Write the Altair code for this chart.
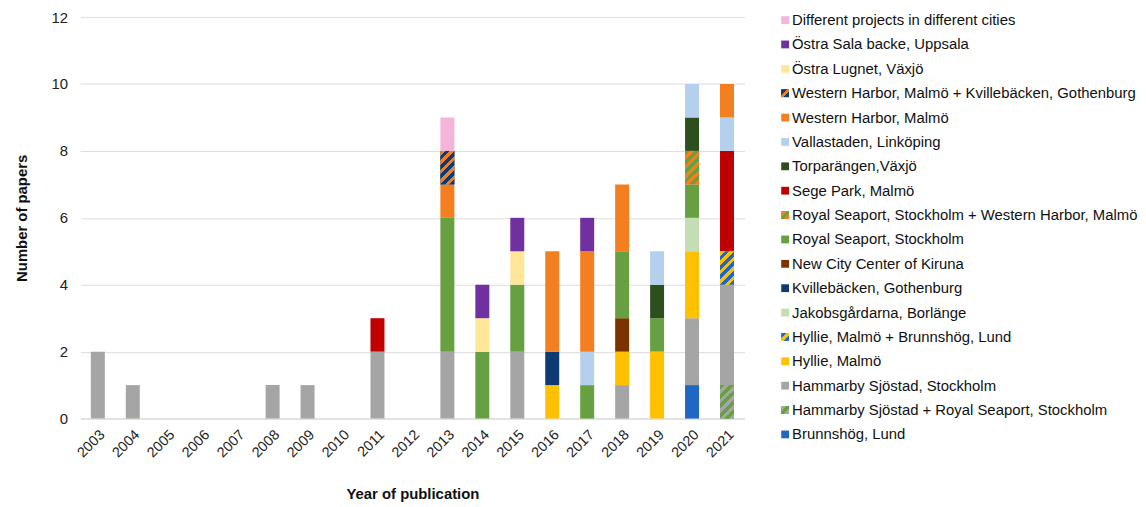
import altair as alt
import pandas as pd

years = [str(y) for y in range(2003, 2022)]

# stacking order: bottom -> top
series_names = [
    "Brunnshög, Lund",
    "Hammarby Sjöstad + Royal Seaport, Stockholm",
    "Hammarby Sjöstad, Stockholm",
    "Hyllie, Malmö",
    "Hyllie, Malmö + Brunnshög, Lund",
    "Jakobsgårdarna, Borlänge",
    "Kvillebäcken, Gothenburg",
    "New City Center of Kiruna",
    "Royal Seaport, Stockholm",
    "Royal Seaport, Stockholm + Western Harbor, Malmö",
    "Sege Park, Malmö",
    "Torparängen,Växjö",
    "Vallastaden, Linköping",
    "Western Harbor, Malmö",
    "Western Harbor, Malmö + Kvillebäcken, Gothenburg",
    "Östra Lugnet, Växjö",
    "Östra Sala backe, Uppsala",
    "Different projects in different cities",
]

#                 03 04 05 06 07 08 09 10 11 12 13 14 15 16 17 18 19 20 21
brunnshog      = [0, 0, 0, 0, 0, 0, 0, 0, 0, 0, 0, 0, 0, 0, 0, 0, 0, 1, 0]
hammarby_royal = [0, 0, 0, 0, 0, 0, 0, 0, 0, 0, 0, 0, 0, 0, 0, 0, 0, 0, 1]
hammarby       = [2, 1, 0, 0, 0, 1, 1, 0, 2, 0, 2, 0, 2, 0, 0, 1, 0, 2, 3]
hyllie         = [0, 0, 0, 0, 0, 0, 0, 0, 0, 0, 0, 0, 0, 1, 0, 1, 2, 2, 0]
hyllie_brunns  = [0, 0, 0, 0, 0, 0, 0, 0, 0, 0, 0, 0, 0, 0, 0, 0, 0, 0, 1]
jakobsgardarna = [0, 0, 0, 0, 0, 0, 0, 0, 0, 0, 0, 0, 0, 0, 0, 0, 0, 1, 0]
kvillebacken   = [0, 0, 0, 0, 0, 0, 0, 0, 0, 0, 0, 0, 0, 1, 0, 0, 0, 0, 0]
kiruna         = [0, 0, 0, 0, 0, 0, 0, 0, 0, 0, 0, 0, 0, 0, 0, 1, 0, 0, 0]
royal          = [0, 0, 0, 0, 0, 0, 0, 0, 0, 0, 4, 2, 2, 0, 1, 2, 1, 1, 0]
royal_western  = [0, 0, 0, 0, 0, 0, 0, 0, 0, 0, 0, 0, 0, 0, 0, 0, 0, 1, 0]
sege           = [0, 0, 0, 0, 0, 0, 0, 0, 1, 0, 0, 0, 0, 0, 0, 0, 0, 0, 3]
torparangen    = [0, 0, 0, 0, 0, 0, 0, 0, 0, 0, 0, 0, 0, 0, 0, 0, 1, 1, 0]
vallastaden    = [0, 0, 0, 0, 0, 0, 0, 0, 0, 0, 0, 0, 0, 0, 1, 0, 1, 1, 1]
western        = [0, 0, 0, 0, 0, 0, 0, 0, 0, 0, 1, 0, 0, 3, 3, 2, 0, 0, 1]
western_kville = [0, 0, 0, 0, 0, 0, 0, 0, 0, 0, 1, 0, 0, 0, 0, 0, 0, 0, 0]
ostra_lugnet   = [0, 0, 0, 0, 0, 0, 0, 0, 0, 0, 0, 1, 1, 0, 0, 0, 0, 0, 0]
ostra_sala     = [0, 0, 0, 0, 0, 0, 0, 0, 0, 0, 0, 1, 1, 0, 1, 0, 0, 0, 0]
different      = [0, 0, 0, 0, 0, 0, 0, 0, 0, 0, 1, 0, 0, 0, 0, 0, 0, 0, 0]

series_values = [brunnshog, hammarby_royal, hammarby, hyllie, hyllie_brunns,
                 jakobsgardarna, kvillebacken, kiruna, royal, royal_western,
                 sege, torparangen, vallastaden, western, western_kville,
                 ostra_lugnet, ostra_sala, different]

series_colors = ["#2066C3", "#66A040", "#A5A5A5", "#FFC000", "#FFC000",
                 "#C5DDB5", "#0E3A74", "#7B3300", "#66A040", "#F47F20",
                 "#C00000", "#2D4F1E", "#B4D0EC", "#F47F20", "#0E3A74",
                 "#FFE699", "#7030A0", "#F5B5DA"]

# hatched series: (name, colour A, colour B)
hatched = [
    ("Hammarby Sjöstad + Royal Seaport, Stockholm", "#66A040", "#A5A5A5"),
    ("Hyllie, Malmö + Brunnshög, Lund", "#FFC000", "#2066C3"),
    ("Royal Seaport, Stockholm + Western Harbor, Malmö", "#66A040", "#F47F20"),
    ("Western Harbor, Malmö + Kvillebäcken, Gothenburg", "#F47F20", "#0E3A74"),
]

rows = []
for i, (name, vals) in enumerate(zip(series_names, series_values)):
    for y, v in zip(years, vals):
        if v > 0:
            rows.append({"year": y, "series": name, "count": v, "order": i})
df = pd.DataFrame(rows)

FONT = "Liberation Sans"


def stripes(a, b, n=10):
    stops = []
    for k in range(n):
        c = a if k % 2 == 0 else b
        stops.append(alt.GradientStop(offset=k / n, color=c))
        stops.append(alt.GradientStop(offset=(k + 1) / n, color=c))
    return alt.LinearGradient(gradient="linear", stops=stops,
                              x1=0, y1=0, x2=0.5, y2=1.2)


def icon(a, b):
    stops = [alt.GradientStop(offset=0, color=b), alt.GradientStop(offset=0.36, color=b),
             alt.GradientStop(offset=0.36, color=a), alt.GradientStop(offset=0.64, color=a),
             alt.GradientStop(offset=0.64, color=b), alt.GradientStop(offset=1, color=b)]
    return alt.LinearGradient(gradient="linear", stops=stops, x1=0, y1=0, x2=1, y2=1)


x_enc = alt.X("year:O", sort=years, scale=alt.Scale(domain=years, paddingInner=0.6, paddingOuter=0.3),
              axis=alt.Axis(title="Year of publication", labelAngle=-45, ticks=False,
                            domainColor="#d9d9d9", labelFontSize=14.5, labelColor="#222",
                            labelFont=FONT, titleFont=FONT, titleFontSize=15,
                            titleFontWeight="bold", titleColor="#111", titlePadding=27,
                            labelPadding=9))
y_enc = alt.Y("y0:Q", scale=alt.Scale(domain=[0, 12]),
              axis=alt.Axis(title="Number of papers", values=[0, 2, 4, 6, 8, 10, 12],
                            domain=False, ticks=False, gridColor="#dcdcdc",
                            labelFontSize=15, labelColor="#222", labelFont=FONT,
                            titleFont=FONT, titleFontSize=15, titleFontWeight="bold",
                            titleColor="#111", labelPadding=13, titlePadding=22))

base = alt.Chart(df).transform_stack(
    stack="count", groupby=["year"], sort=[alt.SortField("order", order="ascending")],
    as_=["y0", "y1"])

bars = base.mark_bar().encode(
    x=x_enc, y=y_enc, y2="y1:Q",
    color=alt.Color("series:N", scale=alt.Scale(domain=series_names, range=series_colors),
                    legend=None),
)

layers = [bars]
for name, a, b in hatched:
    layers.append(
        base.transform_filter(alt.datum.series == name)
        .mark_bar(color=stripes(a, b))
        .encode(x=x_enc, y=y_enc, y2="y1:Q")
    )

main = alt.layer(*layers).properties(width=670, height=405)

# custom legend (top -> bottom)
legend_order = list(reversed(series_names))
leg_df = pd.DataFrame({"series": legend_order, "idx": list(range(len(legend_order)))})
leg_y = alt.Y("series:N", sort=legend_order,
              scale=alt.Scale(type="point", domain=legend_order, padding=0.122), axis=None)
leg_base = alt.Chart(leg_df)
leg_sq = leg_base.mark_square(size=62, opacity=1).encode(
    x=alt.value(5), y=leg_y,
    color=alt.Color("series:N", scale=alt.Scale(domain=series_names, range=series_colors),
                    legend=None))
leg_layers = [leg_sq]
for name, a, b in hatched:
    leg_layers.append(
        leg_base.transform_filter(alt.datum.series == name)
        .mark_square(size=62, opacity=1, color=icon(a, b))
        .encode(x=alt.value(5), y=leg_y))
leg_txt = leg_base.mark_text(align="left", baseline="middle", fontSize=15, font=FONT,
                             color="#111").encode(x=alt.value(12), y=leg_y, text="series:N")
leg_layers.append(leg_txt)
legend = alt.layer(*leg_layers).properties(width=340, height=424)

chart = alt.hconcat(main, legend, spacing=36).properties(
    padding={"left": 6, "top": 0, "right": 0, "bottom": 0}
).configure_view(stroke=None).resolve_scale(y="independent", color="independent")

chart.save("out.html", embed_options={"renderer": "svg", "actions": False})
